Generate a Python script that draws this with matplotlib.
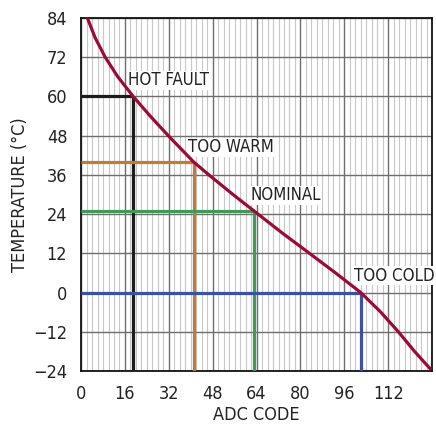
import matplotlib.pyplot as plt
from matplotlib.ticker import MultipleLocator

plt.rcParams['font.family'] = ['DejaVu Sans']
plt.rcParams['font.stretch'] = 'condensed'

# transfer curve: ADC code vs thermistor temperature
curve_temp = [84, 78, 72, 66, 60, 54, 48, 42, 40, 36, 30, 25, 18, 12, 6, 0, -6, -12, -18, -23.3]
curve_code = [2.3, 5.1, 8.8, 13.4, 19.0, 25.2, 31.8, 38.7, 41.0, 46.6, 55.4, 63.0, 73.7, 83.3, 92.8, 102.0,
              109.3, 115.7, 121.6, 127.3]

# comparator thresholds
th_names = ["HOT FAULT", "TOO WARM", "NOMINAL", "TOO COLD"]
th_temp = [60, 40, 25, 0]
th_code = [19, 41, 63, 102]
th_colors = ["#1c1c1c", "#c27a38", "#3f9a58", "#3953a4"]
label_pos = [(17.2, 65.0), (39.0, 44.5), (61.7, 29.7), (99.6, 5.2)]

fig = plt.figure(figsize=(4.36, 4.24), dpi=100)
ax = fig.add_axes([0.186, 0.125, 0.805, 0.8325])

ax.set_xlim(0, 128)
ax.set_ylim(-24, 84)
ax.xaxis.set_minor_locator(MultipleLocator(2))
ax.yaxis.set_major_locator(MultipleLocator(12))
ax.set_xticks(range(0, 129, 16))
ax.set_xticklabels([str(v) for v in range(0, 113, 16)] + [""])

ax.grid(which='minor', axis='x', color='#c8c8c8', lw=0.8, zorder=0)
ax.grid(which='major', axis='both', color='#6e6e6e', lw=1.0, zorder=0)
ax.set_axisbelow(True)

for t, c, col in zip(th_temp, th_code, th_colors):
    ax.plot([0, c], [t, t], color=col, lw=2.3, solid_capstyle='butt', zorder=3)
    ax.plot([c, c], [-24, t], color=col, lw=2.3, solid_capstyle='butt', zorder=3)

for name, (x, y) in zip(th_names, label_pos):
    ax.text(x, y, name, fontsize=12.1, color='#222222', ha='left', va='center', zorder=4,
            bbox=dict(facecolor='white', edgecolor='none', pad=0.4))

ax.plot(curve_code, curve_temp, color='#9c0a38', lw=2.3, zorder=5, solid_joinstyle='round')

ax.tick_params(which='both', length=0, labelsize=13, colors='#222222')
ax.tick_params(axis='y', pad=10)
ax.tick_params(axis='x', pad=10)
for s in ax.spines.values():
    s.set_linewidth(1.3)
    s.set_color('#111111')

ax.set_xlabel("ADC CODE", fontsize=13, color='#222222', labelpad=2)
ax.set_ylabel("TEMPERATURE (°C)", fontsize=13, color='#222222', labelpad=3)

fig.savefig("out.png", dpi=100)
